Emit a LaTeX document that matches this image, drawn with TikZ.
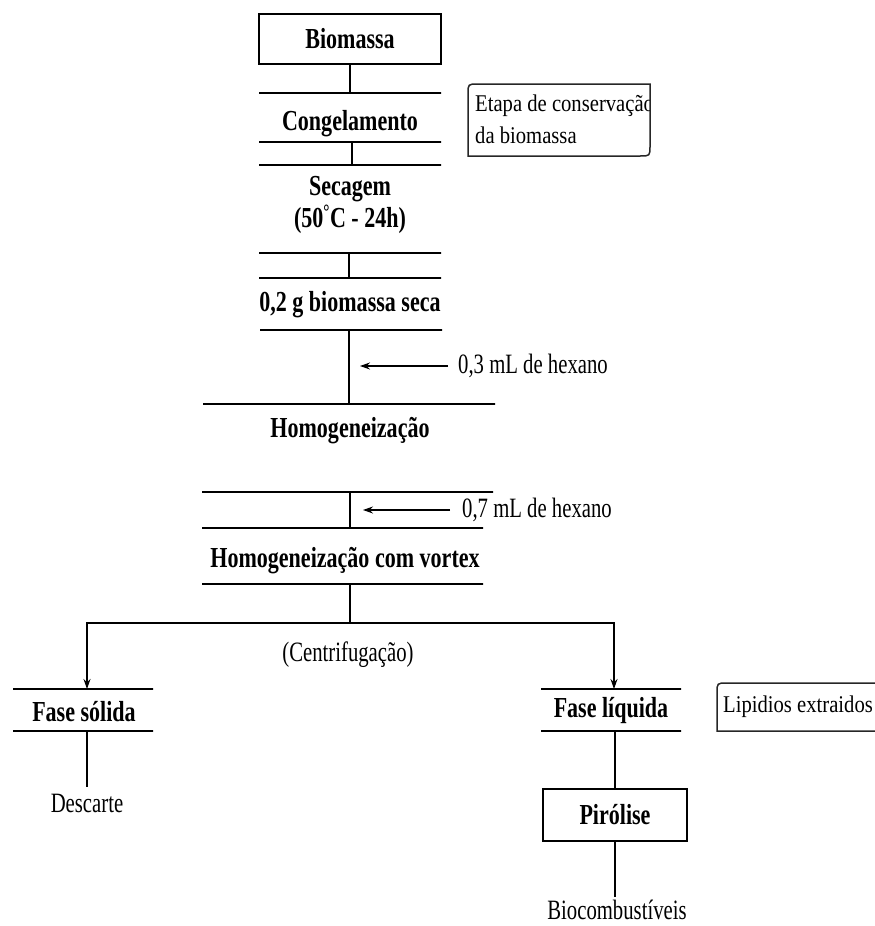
\documentclass[tikz,border=0pt]{standalone}
\usepackage{fontspec}
\setmainfont{Liberation Serif}[FakeStretch=0.76]
\newfontfamily\plainfont{Liberation Serif}[FakeStretch=0.74]
\newfontfamily\notefont{Liberation Serif}[FakeStretch=0.86]
\usetikzlibrary{arrows.meta}

\begin{document}
\begin{tikzpicture}[x=1pt,y=-1pt,
  stagetext/.style={font=\fontsize{29}{32}\selectfont\bfseries, align=center, inner sep=0pt},
  plaintext/.style={font=\plainfont\fontsize{28}{32}\selectfont, inner sep=0pt},
  notetext/.style={font=\notefont\fontsize{24}{32}\selectfont, align=left, inner sep=0pt, anchor=west},
  barline/.style={draw, line width=1.8pt, minimum width=#1, minimum height=0pt, inner sep=0pt, outer sep=0pt, shape=rectangle},
  boxed/.style={draw, line width=1.8pt, inner sep=0pt, font=\fontsize{29}{32}\selectfont\bfseries},
  link/.style={line width=1.1pt},
  feed/.style={line width=1.1pt, -{Stealth[length=10pt,width=7pt]}},
  calloutline/.style={line width=1.5pt, draw=black!85},
]
\useasboundingbox (0,0) rectangle (875,926);

% main column
\node[boxed, minimum width=182pt, minimum height=50pt] (bio) at (350,39) {Biomassa};
\node[barline=182pt] (b1) at (350,93) {};
\node[stagetext] (cong) at (350,124) {Congelamento};
\node[barline=182pt] (b2) at (350,142) {};
\node[barline=182pt] (b3) at (350,165) {};
\node[stagetext] (sec) at (350,205) {Secagem\\(50\textsuperscript{°}C - 24h)};
\node[barline=182pt] (b4) at (350,253) {};
\node[barline=182pt] (b5) at (350,278) {};
\node[stagetext] (dry) at (350,305) {0,2 g biomassa seca};
\node[barline=182pt] (b6) at (351,330) {};
\node[barline=292pt] (b7) at (349,404) {};
\node[plaintext, anchor=west] (hex3) at (458,366) {0,3 mL de hexano};
\coordinate (in3) at (360,366);
\node[stagetext] (hom) at (350,431) {Homogeneização};
\node[barline=291pt] (b8) at (347.5,492) {};
\node[barline=281pt] (b9) at (342.5,528) {};
\node[plaintext, anchor=west] (hex7) at (462,510) {0,7 mL de hexano};
\coordinate (in7) at (363,510);
\node[stagetext] (vort) at (345,561) {Homogeneização com vortex};
\node[barline=281pt] (b10) at (342.5,584) {};
\coordinate (split) at (350,623);
\node[plaintext] (cent) at (348,655) {(Centrifugação)};

% solid branch
\node[barline=140pt] (sb1) at (83,689) {};
\node[stagetext] (sol) at (84,712) {Fase sólida};
\node[barline=140pt] (sb2) at (83,731) {};
\node[plaintext] (desc) at (87,803) {Descarte};

% liquid branch
\node[barline=140pt] (lb1) at (611,689) {};
\node[stagetext] (liq) at (611,711) {Fase líquida};
\node[barline=140pt] (lb2) at (611,731) {};
\node[boxed, minimum width=144pt, minimum height=52pt] (pir) at (615,815) {Pirólise};
\node[plaintext] (bfuel) at (617,910) {Biocombustíveis};

% connectors
\draw[link] (bio.south) -- (b1.north);
\draw[link] ([xshift=2pt]b2.south) -- ([xshift=2pt]b3.north);
\draw[link] ([xshift=-1pt]b4.south) -- ([xshift=-1pt]b5.north);
\draw[link] (b7.north |- b6.south) -- (b7.north);
\draw[feed] ([xshift=-10pt]hex3.west) -- (in3);
\draw[link] (b8.south -| split) -- (b9.north -| split);
\draw[feed] ([xshift=-12pt]hex7.west) -- (in7);
\draw[link] (b10.south -| split) -- (split);
\draw[feed] (split) -| ([xshift=4pt]sb1.north);
\draw[feed] (split) -| ([xshift=3pt]lb1.north);
\draw[link, shorten >=7pt] ([xshift=4pt]sb2.south) -- (desc.north);
\draw[link] (lb2.south -| pir.north) -- (pir.north);
\draw[link, shorten >=3pt] (pir.south) -- (pir.south |- bfuel.north);

% callout: preservation step
\begin{scope}
  \clip (468,156) -- (468,94) .. controls (468,84) .. (478,84) -- (650,84)
        -- (650,146) .. controls (650,156) .. (640,156) -- cycle;
  \node[notetext] (keep) at (475,119) {Etapa de conservação\\da biomassa};
\end{scope}
\draw[calloutline] (468,156) -- (468,94) .. controls (468,84) .. (478,84) -- (650,84)
      -- (650,146) .. controls (650,156) .. (640,156) -- cycle;

% callout: extracted lipids
\node[notetext] (lip) at (723,707) {Lipidios extraidos};
\draw[calloutline] (717,731) -- (717,693) .. controls (717,683) .. (727,683) -- (892,683)
      -- (892,721) .. controls (892,731) .. (882,731) -- cycle;
\end{tikzpicture}
\end{document}
